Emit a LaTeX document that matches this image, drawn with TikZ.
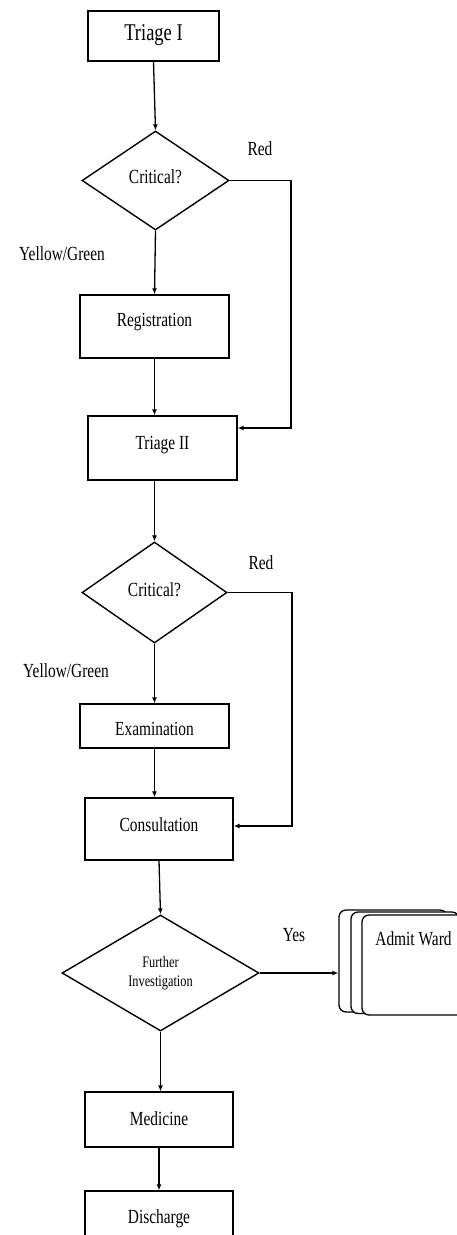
\documentclass[tikz,border=0pt]{standalone}
\usepackage{graphicx}
\usepackage{fontspec}
\setmainfont{Liberation Serif}
\usetikzlibrary{shapes.geometric,arrows.meta,calc}
\newcommand{\cond}[1]{\scalebox{0.77}[1]{#1}}
\tikzset{
  box/.style={draw, rectangle, line width=1.4pt, inner sep=0pt, fill=white,
    font=\fontsize{20}{22}\selectfont},
  dec/.style={draw, diamond, line width=1.4pt, inner sep=0pt,
    font=\fontsize{20}{22}\selectfont},
  doc/.style={draw, rectangle, rounded corners=7pt, line width=1.3pt, inner sep=0pt, fill=white,
    font=\fontsize{20}{22}\selectfont},
  lbl/.style={anchor=base, inner sep=0pt, font=\fontsize{20}{22}\selectfont},
  arr/.style={line width=1.3pt, -{Latex[length=6pt,width=5pt]}},
}
\begin{document}
\begin{tikzpicture}[x=1pt,y=-1pt]
\useasboundingbox (0,0) rectangle (457,1235);
\clip (0,0) rectangle (457,1235);

% process boxes and decisions
\node[box, minimum width=131pt, minimum height=50pt, font=\fontsize{24}{26}\selectfont,
      text height=16pt, text depth=6.6pt] (t1) at (153.5,36) {\cond{Triage I}};
\node[dec, minimum width=147pt, minimum height=99pt, text height=14pt, text depth=9pt]
      (d1) at (155.5,180.5) {\cond{Critical?}};
\node[box, minimum width=149pt, minimum height=63pt, text height=14pt, text depth=13.6pt]
      (reg) at (154.5,326.5) {\cond{Registration}};
\node[box, minimum width=149pt, minimum height=64pt, text height=14pt, text depth=10.6pt]
      (t2) at (162.5,448) {\cond{Triage II}};
\node[dec, minimum width=145pt, minimum height=101pt, text height=14pt, text depth=7pt]
      (d2) at (154.5,592.5) {\cond{Critical?}};
\node[box, minimum width=149pt, minimum height=44pt, text height=18pt, text depth=0pt]
      (exam) at (154.5,726) {\cond{Examination}};
\node[box, minimum width=148pt, minimum height=62pt, text height=14pt, text depth=10pt]
      (cons) at (159,829) {\cond{Consultation}};
\node[dec, minimum width=197pt, minimum height=116pt, align=center,
      font=\fontsize{16}{19}\selectfont]
      (d3) at (160.5,973) {\cond{Further}\\\cond{Investigation}};
\node[box, minimum width=148pt, minimum height=55pt, text height=14pt, text depth=3pt]
      (med) at (159,1119.5) {\cond{Medicine}};
\node[box, minimum width=148pt, minimum height=58pt, text height=14pt, text depth=8pt]
      (dis) at (159,1220) {\cond{Discharge}};

% stacked documents
\node[doc, minimum width=108pt, minimum height=102pt] (admitb) at (393,961) {};
\node[doc, minimum width=108pt, minimum height=101.5pt] (admitm) at (405,962.75) {};
\node[doc, minimum width=103pt, minimum height=100pt, text height=14pt, text depth=54pt]
      (admit) at (413.5,965) {\cond{Admit Ward}};

% routing coordinates
\coordinate (r1) at (291,180.5);
\coordinate (r2) at (292,592.5);

% connectors
\draw[arr] (t1.south) -- (d1.north);
\draw[arr] (d1.south) -- (reg.north);
\draw[arr] (d1.east) -- (r1) |- ([yshift=20pt]t2.east);
\draw[arr] (reg.south) -- (reg.south |- t2.north);
\draw[arr] (t2.south -| d2.north) -- (d2.north);
\draw[arr] (d2.south) -- (exam.north);
\draw[arr] (d2.east) -- (r2) |- ([yshift=3pt]cons.east);
\draw[arr] (exam.south) -- (exam.south |- cons.north);
\draw[arr] (cons.south) -- (d3.north);
\draw[arr] (d3.east) -- (d3.east -| admitb.west);
\draw[arr] (d3.south) -- (d3.south |- med.north);
\draw[arr] (med.south) -- (med.south |- dis.north);

% branch labels
\node[lbl] (red1) at (260,155) {\cond{Red}};
\node[lbl] (yg1) at (62,260.7) {\cond{Yellow/Green}};
\node[lbl] (red2) at (261,569) {\cond{Red}};
\node[lbl] (yg2) at (66,677) {\cond{Yellow/Green}};
\node[lbl] (yes) at (294,941) {\cond{Yes}};
\end{tikzpicture}
\end{document}
